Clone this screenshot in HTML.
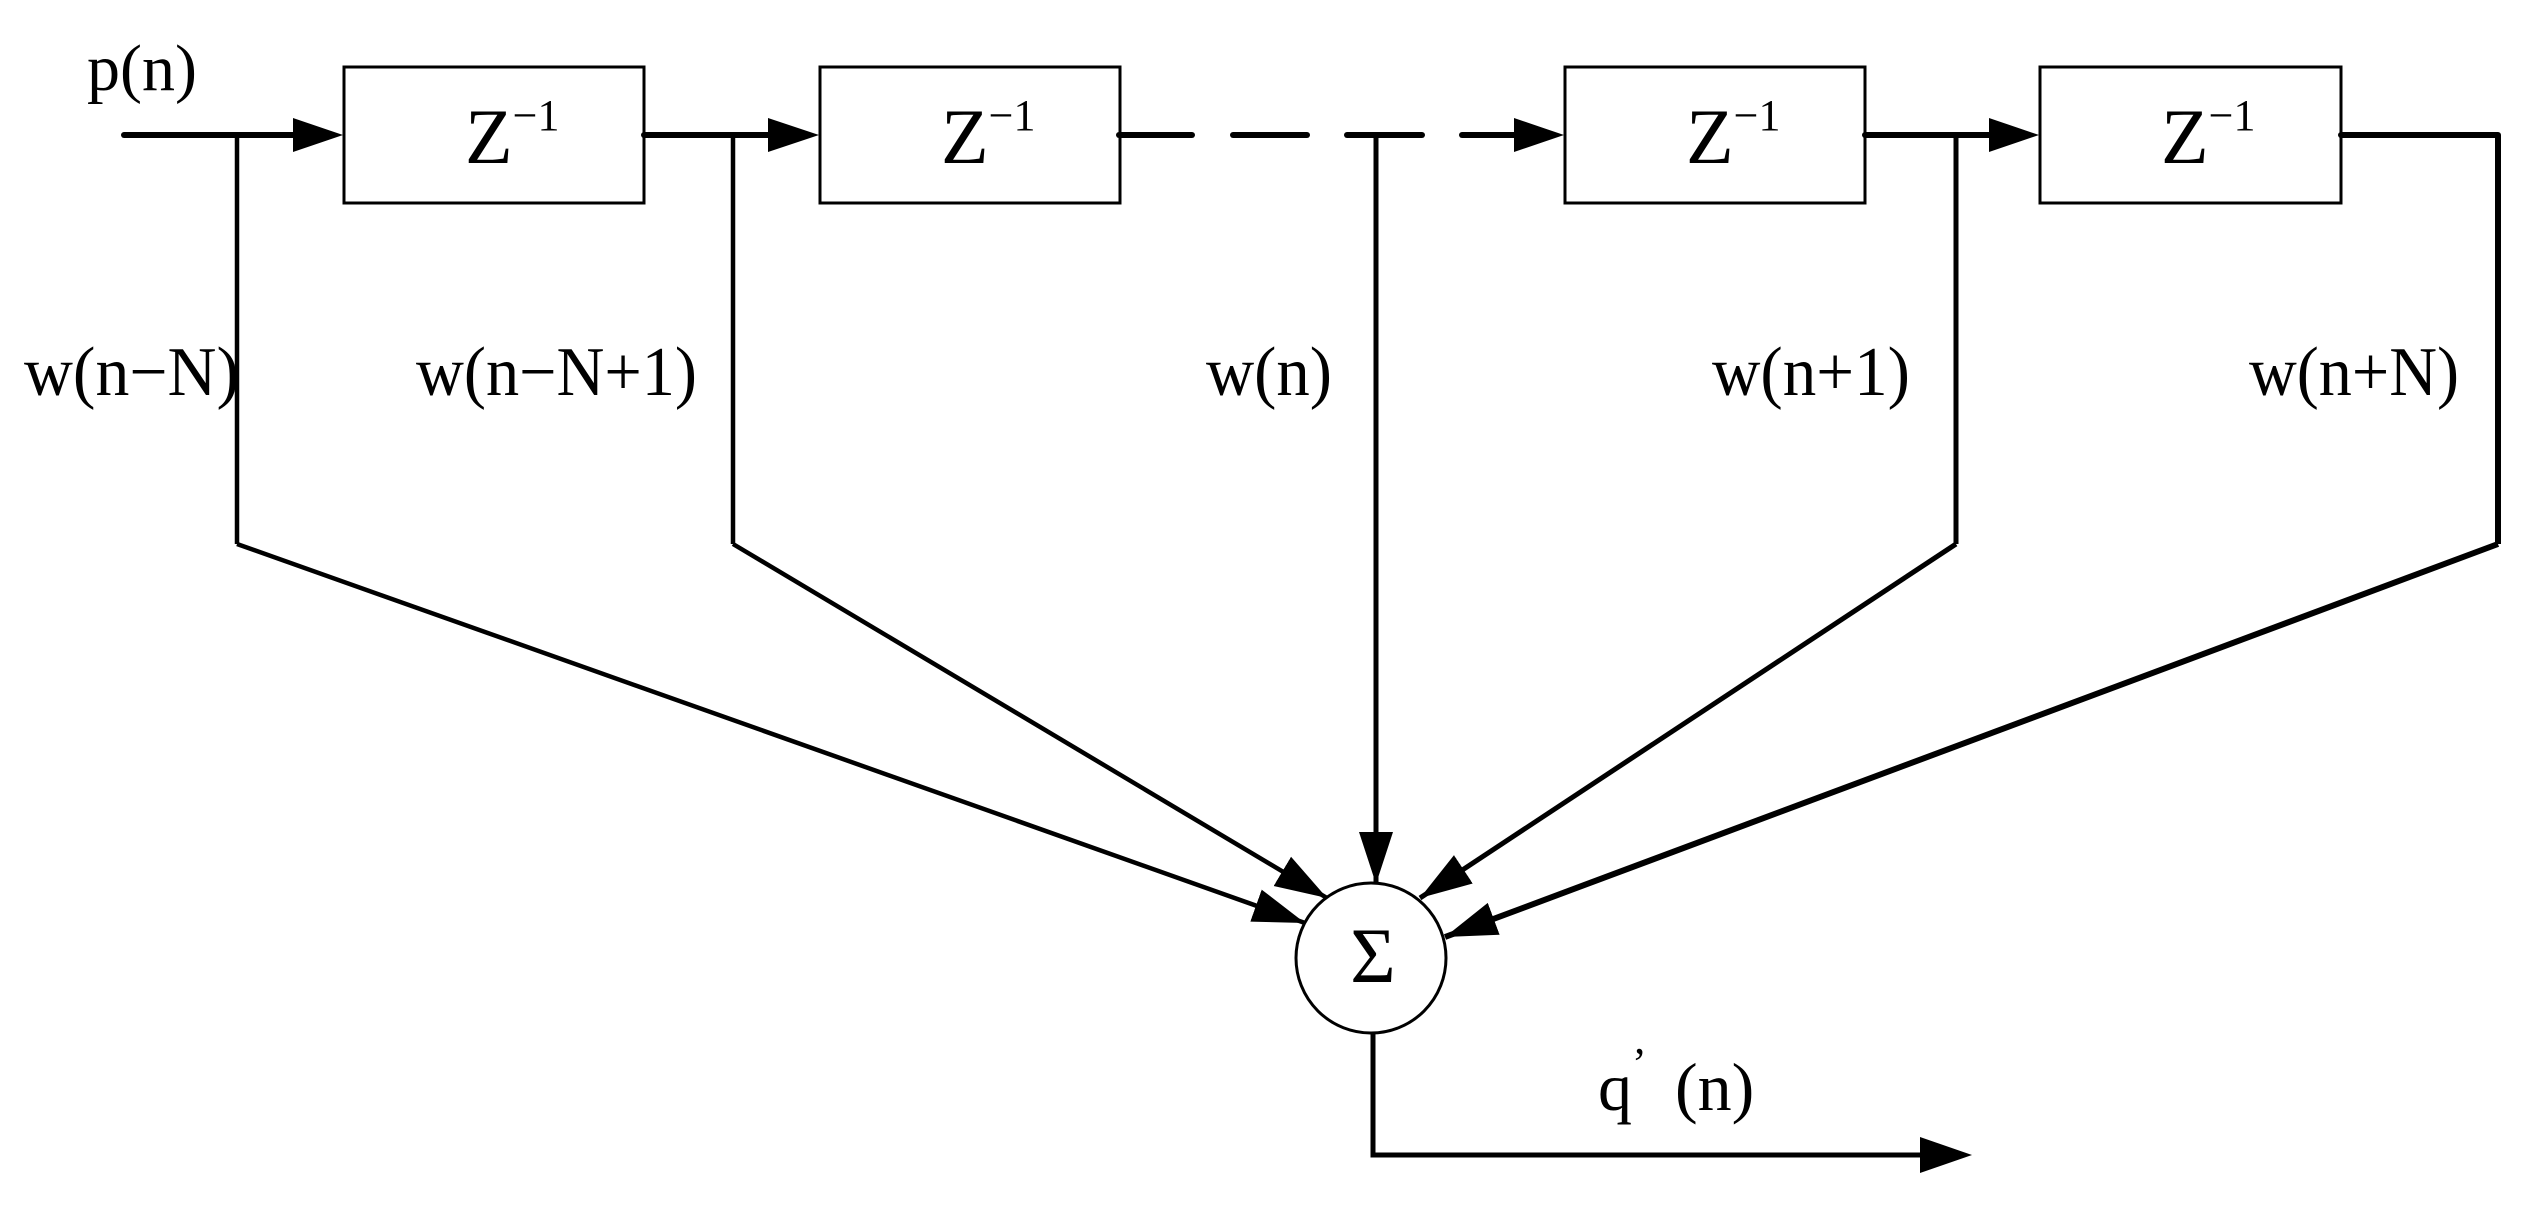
<!DOCTYPE html>
<html><head><meta charset="utf-8"><style>
html,body{margin:0;padding:0;background:#fff;}
svg{display:block;}
text{font-family:"Liberation Serif",serif;fill:#000;}
</style></head><body>
<svg width="2528" height="1205" viewBox="0 0 2528 1205" xmlns="http://www.w3.org/2000/svg">
<defs>
<marker id="ah" markerUnits="userSpaceOnUse" markerWidth="54" markerHeight="38" refX="52" refY="19" orient="auto">
<path d="M0,2 L52,19 L0,36 z" fill="#000"/>
</marker>
</defs>
<rect width="2528" height="1205" fill="#fff"/>
<g stroke="#000" stroke-linecap="round" fill="none">
<line x1="124" y1="135" x2="300" y2="135" stroke-width="6"/>
<line x1="644" y1="135" x2="775" y2="135" stroke-width="6"/>
<line x1="1119" y1="135" x2="1192" y2="135" stroke-width="6"/>
<line x1="1233" y1="135" x2="1307" y2="135" stroke-width="6"/>
<line x1="1347" y1="135" x2="1422" y2="135" stroke-width="6"/>
<line x1="1462" y1="135" x2="1520" y2="135" stroke-width="6"/>
<line x1="1865" y1="135" x2="1995" y2="135" stroke-width="6"/>
<line x1="2341" y1="135" x2="2498" y2="135" stroke-width="6"/>
<rect x="344" y="67" width="300" height="136" stroke-width="3"/>
<rect x="820" y="67" width="300" height="136" stroke-width="3"/>
<rect x="1565" y="67" width="300" height="136" stroke-width="3"/>
<rect x="2040" y="67" width="301" height="136" stroke-width="3"/>
<polyline points="237,135 237,544" stroke-width="4.5" stroke-linecap="butt"/>
<line x1="237" y1="544" x2="1305" y2="923" stroke-width="4.5" stroke-linecap="butt" marker-end="url(#ah)"/>
<polyline points="733,135 733,544" stroke-width="4.5" stroke-linecap="butt"/>
<line x1="733" y1="544" x2="1327" y2="898" stroke-width="4.5" stroke-linecap="butt" marker-end="url(#ah)"/>
<line x1="1376" y1="135" x2="1376" y2="884" stroke-width="5" stroke-linecap="butt" marker-end="url(#ah)"/>
<polyline points="1956,135 1956,544" stroke-width="5" stroke-linecap="butt"/>
<line x1="1956" y1="544" x2="1420" y2="898" stroke-width="5" stroke-linecap="butt" marker-end="url(#ah)"/>
<polyline points="2498,135 2498,544" stroke-width="6" stroke-linecap="butt"/>
<line x1="2498" y1="544" x2="1445" y2="937" stroke-width="6" stroke-linecap="butt" marker-end="url(#ah)"/>
<circle cx="1371" cy="958" r="75" stroke-width="3" fill="#fff"/>
<polyline points="1373,1033 1373,1155 1925,1155" stroke-width="5" stroke-linecap="butt"/>
</g>
<g fill="#000">
<polygon points="293,118 343,135 293,152"/>
<polygon points="768,118 819,135 768,152"/>
<polygon points="1514,118 1564,135 1514,152"/>
<polygon points="1989,118 2039,135 1989,152"/>
<polygon points="1920,1137 1972,1155 1920,1173"/>
</g>
<text x="87" y="90" font-size="66">p(n)</text>
<text x="465" y="163" font-size="78">Z<tspan font-size="44" dy="-33">−1</tspan></text>
<text x="941" y="163" font-size="78">Z<tspan font-size="44" dy="-33">−1</tspan></text>
<text x="1686" y="163" font-size="78">Z<tspan font-size="44" dy="-33">−1</tspan></text>
<text x="2161" y="163" font-size="78">Z<tspan font-size="44" dy="-33">−1</tspan></text>
<text x="24" y="395" font-size="70" textLength="215" lengthAdjust="spacingAndGlyphs">w(n−N)</text>
<text x="416" y="395" font-size="70" textLength="281" lengthAdjust="spacingAndGlyphs">w(n−N+1)</text>
<text x="1206" y="395" font-size="70" textLength="126" lengthAdjust="spacingAndGlyphs">w(n)</text>
<text x="1712" y="395" font-size="70" textLength="198" lengthAdjust="spacingAndGlyphs">w(n+1)</text>
<text x="2249" y="395" font-size="70" textLength="210" lengthAdjust="spacingAndGlyphs">w(n+N)</text>
<text x="1373" y="982" font-size="78" text-anchor="middle">Σ</text>
<text x="1598" y="1110" font-size="68">q<tspan font-size="44" dy="-32">’</tspan><tspan dy="32" x="1675">(n)</tspan></text>
</svg>
</body></html>
